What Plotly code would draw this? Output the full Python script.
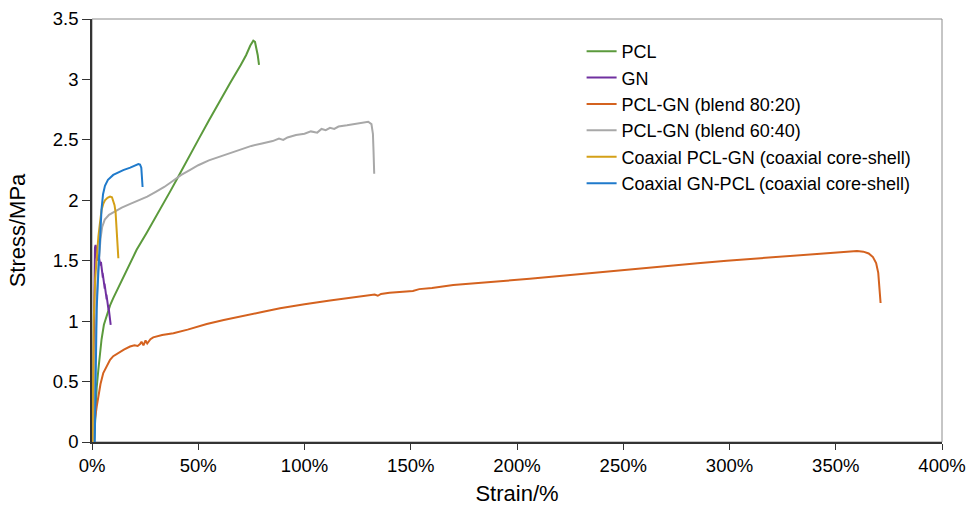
import plotly.graph_objects as go

# ---- data (strain in %, stress in MPa) ----
pcl_strain = [1.0, 1.5, 2.2, 3.0, 3.8, 4.5, 5.6, 6.9, 8.5, 10, 13, 17.9, 21, 25.7, 30, 33.6, 37, 39.8,
              41.4, 46, 50, 55, 60, 65, 70, 72.5, 74.5, 75.9, 76.7, 77.4, 78.0, 78.6]
pcl_stress = [0.0, 0.2, 0.45, 0.6, 0.76, 0.85, 0.97, 1.05, 1.13, 1.19, 1.30, 1.48, 1.59, 1.73, 1.86, 1.97, 2.08, 2.17,
              2.22, 2.37, 2.50, 2.66, 2.82, 2.97, 3.12, 3.20, 3.28, 3.32, 3.31, 3.26, 3.20, 3.12]

gn_strain = [0.3, 0.6, 0.9, 1.1, 1.4, 1.7, 2.0, 2.3, 2.6, 3.0, 3.4, 3.8, 4.0,
             4.2, 4.5, 4.4, 4.8, 4.7, 5.1, 5.0, 5.4, 5.3, 5.7, 5.6, 6.0, 5.9, 6.3, 6.2, 6.6, 6.5, 6.9, 6.8,
             7.2, 7.1, 7.5, 7.4, 7.8, 7.7, 8.1, 8.0, 8.4, 8.3, 8.7, 8.8]
gn_stress = [0.0, 0.6, 1.2, 1.5, 1.61, 1.63, 1.60, 1.52, 1.50, 1.55, 1.52, 1.50, 1.46,
             1.49, 1.42, 1.46, 1.39, 1.43, 1.36, 1.40, 1.33, 1.37, 1.30, 1.34, 1.27, 1.31, 1.24, 1.28,
             1.21, 1.25, 1.18, 1.22, 1.15, 1.19, 1.12, 1.16, 1.09, 1.13, 1.06, 1.10, 1.02, 1.06, 0.99, 0.97]

b8020_strain = [0.5, 1.0, 1.5, 2.2, 3, 4, 5.3, 6.9, 8.5, 10, 12.4, 15, 17.9, 20, 21.5, 22.6, 23.3, 24.2, 25.2,
                26.0, 27.5, 28.8, 33, 38.3, 45, 54, 62, 69.6, 80, 88.5, 93, 100, 112, 120, 128, 133, 134.5,
                136, 140, 146, 151, 154, 160, 170, 182.6, 195, 206, 218, 229.6, 240, 250, 260, 272, 285,
                298.7, 310, 319, 330, 342.6, 350, 356, 360, 363, 365.5, 367.5, 369, 370, 370.5, 370.8, 371.1]
b8020_stress = [0.0, 0.12, 0.2, 0.29, 0.38, 0.48, 0.57, 0.63, 0.68, 0.71, 0.74, 0.765, 0.79, 0.80, 0.795, 0.81,
                0.83, 0.80, 0.84, 0.815, 0.85, 0.866, 0.885, 0.90, 0.93, 0.976, 1.01, 1.04, 1.075, 1.106, 1.12,
                1.14, 1.17, 1.19, 1.21, 1.22, 1.21, 1.225, 1.235, 1.245, 1.25, 1.265, 1.275, 1.30, 1.32, 1.335,
                1.35, 1.37, 1.39, 1.41, 1.425, 1.44, 1.46, 1.48, 1.50, 1.515, 1.53, 1.545, 1.56, 1.57, 1.58,
                1.58, 1.575, 1.56, 1.53, 1.48, 1.40, 1.30, 1.22, 1.15]

b6040_strain = [0.5, 1.0, 1.6, 2.2, 2.8, 3.4, 4.0, 4.8, 6, 8, 10, 14, 18, 22, 26, 30, 34, 38, 42, 46, 50, 55,
                60, 65, 70, 75, 80, 85, 88, 90, 92, 96, 100, 103, 106, 108, 110, 112, 114, 116, 120, 124,
                128, 130, 131.5, 132.2, 132.5, 132.8]
b6040_stress = [0.0, 0.4, 0.8, 1.15, 1.4, 1.55, 1.68, 1.78, 1.84, 1.88, 1.90, 1.94, 1.97, 2.00, 2.03, 2.07,
                2.11, 2.16, 2.21, 2.25, 2.29, 2.33, 2.36, 2.39, 2.42, 2.45, 2.47, 2.49, 2.51, 2.50, 2.52,
                2.54, 2.55, 2.57, 2.56, 2.59, 2.58, 2.60, 2.59, 2.61, 2.62, 2.63, 2.645, 2.65, 2.63, 2.55,
                2.40, 2.22]

cpg_strain = [0.2, 0.4, 0.8, 1.5, 2.3, 3.0, 3.8, 4.5, 5.3, 6.1, 7.3, 8.5, 9.4, 10, 10.6, 11.1, 11.5, 11.8,
              12.1, 12.4]
cpg_stress = [0.0, 0.5, 1.0, 1.35, 1.55, 1.7, 1.82, 1.92, 1.97, 2.0, 2.02, 2.03, 2.025, 2.0, 1.96, 1.9, 1.8,
              1.7, 1.6, 1.52]

cgp_strain = [1.3, 1.5, 1.8, 2.2, 2.7, 3.3, 3.8, 4.5, 5.2, 6.1, 7.5, 10, 14.7, 18, 21.8, 22.6, 23.2, 23.6, 23.8]
cgp_stress = [0.0, 0.4, 0.8, 1.1, 1.3, 1.55, 1.75, 1.93, 2.05, 2.12, 2.17, 2.21, 2.25, 2.27, 2.30, 2.295,
              2.27, 2.2, 2.11]

series_names = ["PCL", "GN", "PCL-GN (blend 80:20)", "PCL-GN (blend 60:40)",
                "Coaxial PCL-GN (coaxial core-shell)", "Coaxial GN-PCL (coaxial core-shell)"]
series_x = [pcl_strain, gn_strain, b8020_strain, b6040_strain, cpg_strain, cgp_strain]
series_y = [pcl_stress, gn_stress, b8020_stress, b6040_stress, cpg_stress, cgp_stress]
colors = ["#5b9a3c", "#7030a0", "#d4621f", "#a8a8a8", "#d4a017", "#1f7acb"]

x_ticks = [0, 50, 100, 150, 200, 250, 300, 350, 400]
x_tick_labels = ["0%", "50%", "100%", "150%", "200%", "250%", "300%", "350%", "400%"]
y_ticks = [0, 0.5, 1, 1.5, 2, 2.5, 3, 3.5]
y_tick_labels = ["0", "0.5", "1", "1.5", "2", "2.5", "3", "3.5"]

FONT = "Liberation Sans, Arial, Helvetica, sans-serif"

fig = go.Figure()
for name, xs, ys, c in zip(series_names, series_x, series_y, colors):
    fig.add_trace(go.Scatter(x=xs, y=ys, mode="lines", name=name,
                             line=dict(color=c, width=2)))

fig.update_layout(
    width=971, height=509,
    margin=dict(l=92, r=29, t=19, b=67),
    paper_bgcolor="white", plot_bgcolor="white",
    font=dict(family=FONT, size=18.5, color="#000000"),
    showlegend=True,
    legend=dict(x=0.576, y=0.967, xanchor="left", yanchor="top",
                bgcolor="rgba(0,0,0,0)", font=dict(size=18, family=FONT)),
    shapes=[dict(type="rect", xref="paper", yref="paper", x0=0, y0=0, x1=1, y1=1,
                 line=dict(color="#8c8c8c", width=1), layer="below")],
)
fig.update_xaxes(range=[0, 400], tickmode="array", tickvals=x_ticks, ticktext=x_tick_labels,
                 showgrid=False, zeroline=False, automargin=False,
                 showline=True, linecolor="#333333", linewidth=1.5,
                 ticks="outside", ticklen=6, tickcolor="#333333",
                 title=dict(text="Strain/%", font=dict(size=22, family=FONT), standoff=11))
fig.update_yaxes(range=[0, 3.5], tickmode="array", tickvals=y_ticks, ticktext=y_tick_labels,
                 showgrid=False, zeroline=False, automargin=False,
                 showline=True, linecolor="#333333", linewidth=1.5,
                 ticks="outside", ticklen=8, tickcolor="#333333",
                 title=dict(text="Stress/MPa", font=dict(size=22, family=FONT), standoff=21))

fig.write_html("out.html", config={"displayModeBar": False},
               post_script="document.body.style.margin='0';")
